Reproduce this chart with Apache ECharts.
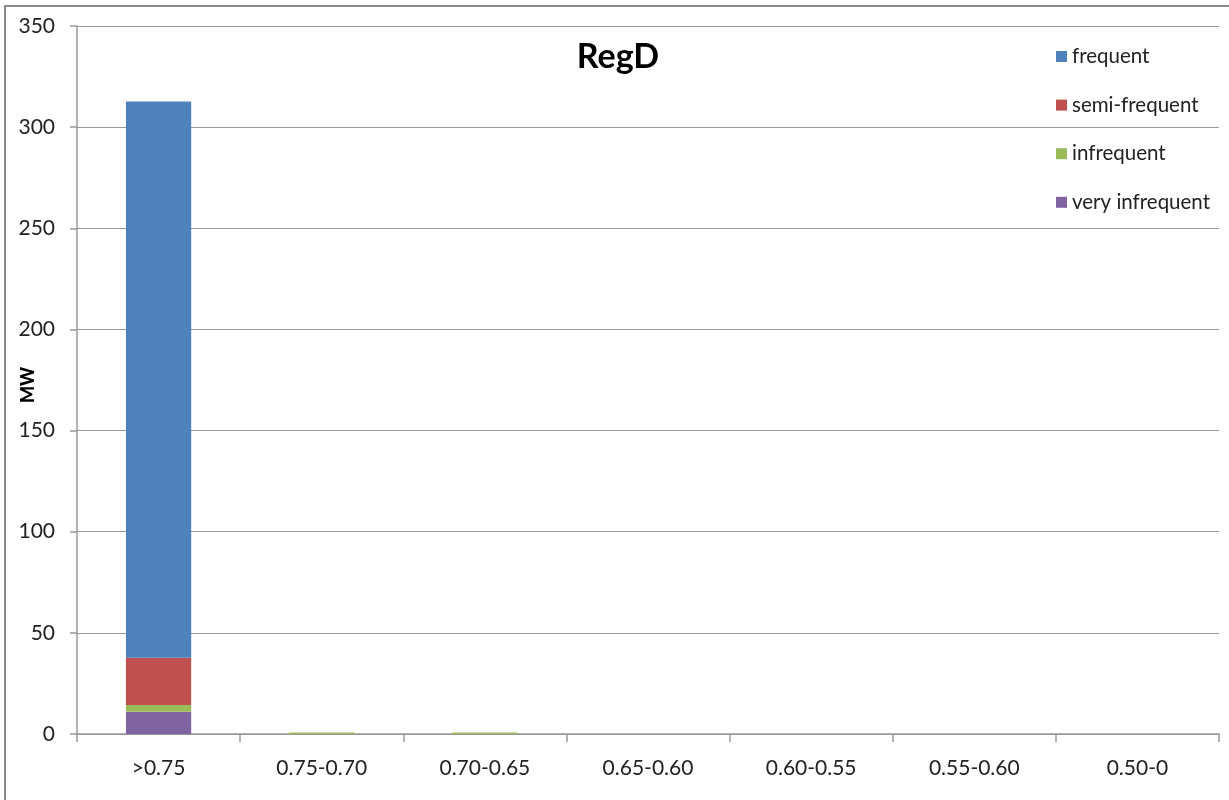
<!DOCTYPE html>
<html>
<head>
<meta charset="utf-8">
<script src="https://cdn.jsdelivr.net/npm/echarts@6/dist/echarts.min.js"></script>
<style>html,body{margin:0;padding:0;background:#fff;}#c{width:1229px;height:800px;}</style>
</head>
<body>
<div id="c"></div>
<script>
var categories = ['>0.75', '0.75-0.70', '0.70-0.65', '0.65-0.60', '0.60-0.55', '0.55-0.60', '0.50-0'];
var veryInfrequent = [11, 0, 0, 0, 0, 0, 0];
var infrequent = [3.3, 0.8, 0.8, 0, 0, 0, 0];
var semiFrequent = [23.4, 0, 0, 0, 0, 0, 0];
var frequent = [275, 0, 0, 0, 0, 0, 0];
var yTicks = [0, 50, 100, 150, 200, 250, 300, 350];

var FONT = 'Lato, "Open Sans", sans-serif';
var chart = echarts.init(document.getElementById('c'));
function ser(name, data, color) {
  return { name: name, type: 'bar', stack: 'a', data: data, barWidth: '40%',
    itemStyle: { color: color }, emphasis: { disabled: true } };
}
chart.setOption({
  animation: false,
  textStyle: { fontFamily: FONT },
  graphic: [{ type: 'rect', shape: { x: 5, y: 6, width: 1240, height: 820 },
    style: { fill: 'none', stroke: '#888', lineWidth: 2 }, silent: true }],
  title: { text: 'RegD', left: 613, top: 35, textAlign: 'center',
    textStyle: { fontFamily: FONT, fontSize: 34, fontWeight: 'bold', color: '#000' } },
  legend: {
    orient: 'vertical', left: 1056, top: 46, padding: 0, itemGap: 27.6, itemWidth: 11, itemHeight: 11,
    icon: 'rect', textStyle: { fontFamily: FONT, fontSize: 20.5, color: '#222' },
    data: ['frequent', 'semi-frequent', 'infrequent', 'very infrequent']
  },
  grid: { left: 77, right: 10, top: 26, bottom: 66, containLabel: false, outerBoundsMode: 'none' },
  xAxis: {
    type: 'category', data: categories,
    axisLine: { lineStyle: { color: '#999', width: 1.5 } },
    axisTick: { show: true, length: 8, lineStyle: { color: '#999', width: 1.5 } },
    axisLabel: { fontFamily: FONT, fontSize: 21, color: '#222', margin: 24 }
  },
  yAxis: {
    type: 'value', min: 0, max: 350, interval: 50,
    name: 'MW', nameLocation: 'middle', nameGap: 40, nameRotate: 90, nameMoveOverlap: false,
    nameTextStyle: { fontFamily: 'Lato', fontSize: 18, fontWeight: 900, color: '#000', padding: [0, 10, 0, 0] },
    axisLine: { show: true, lineStyle: { color: '#999', width: 1.5 } },
    axisTick: { show: true, length: 7, lineStyle: { color: '#999', width: 1.5 } },
    splitLine: { lineStyle: { color: '#999', width: 1.2 } },
    axisLabel: { fontFamily: FONT, fontSize: 21, color: '#222', margin: 22,
      formatter: function (v) { return yTicks.indexOf(v) >= 0 ? String(v) : ''; } }
  },
  series: [
    ser('very infrequent', veryInfrequent, '#8064a2'),
    ser('infrequent', infrequent, '#9bbb59'),
    ser('semi-frequent', semiFrequent, '#c0504d'),
    ser('frequent', frequent, '#4f81bd')
  ]
});
</script>
</body>
</html>
